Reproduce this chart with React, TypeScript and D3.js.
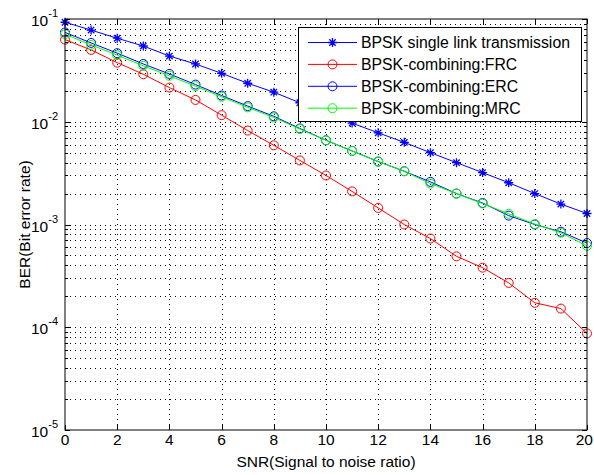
import React from 'react';
import * as d3 from 'd3';

// SNR (dB) on the x axis
const snr = d3.range(0, 21);

// BER
const singleLink = [0.093, 0.078, 0.065, 0.0546, 0.0436, 0.0365, 0.0296, 0.0237, 0.0194, 0.0153, 0.0122,
  0.0097, 0.0078, 0.0063, 0.0050, 0.0040, 0.0032, 0.00255, 0.0020, 0.00158, 0.00128];
const frc = [0.063, 0.050, 0.0376, 0.029, 0.0215, 0.0163, 0.0116, 0.0082, 0.0059, 0.0042, 0.0030,
  0.0021, 0.00145, 0.0010, 0.00073, 0.00049, 0.00038, 0.00027, 0.000173, 0.000152, 0.000087];
const erc = [0.0740, 0.0585, 0.0465, 0.0365, 0.0292, 0.0230, 0.0180, 0.0142, 0.0113, 0.0086, 0.0066,
  0.0052, 0.0041, 0.0033, 0.0026, 0.0020, 0.00162, 0.00122, 0.00100, 0.00085, 0.00066];
const mrc = [0.0710, 0.0560, 0.0445, 0.0350, 0.0280, 0.0222, 0.0175, 0.0138, 0.0110, 0.0085, 0.0066,
  0.0052, 0.0041, 0.0033, 0.0025, 0.0020, 0.00160, 0.00127, 0.00101, 0.00083, 0.00062];

const seriesNames = ['BPSK single link transmission', 'BPSK-combining:FRC', 'BPSK-combining:ERC', 'BPSK-combining:MRC'];
const seriesColors = ['#0000ff', '#ff0000', '#0000ff', '#00ff00'];
const seriesMarkers = ['star', 'circle', 'circle', 'circle'];

const xTicks = [0, 2, 4, 6, 8, 10, 12, 14, 16, 18, 20];
const yDecades = [-5, -4, -3, -2, -1];

const W = 594, H = 475;
const left = 65, right = 587, top = 19, bottom = 430;
const font = 'Arial, "Liberation Sans", sans-serif';

const App = () => {
  const ref = React.useRef<SVGSVGElement>(null);

  React.useEffect(() => {
    const svg = d3.select(ref.current);
    svg.selectAll('*').remove();

    const x = d3.scaleLinear().domain([0, 20]).range([left, right]);
    const y = d3.scaleLog().domain([1e-5, 1e-1]).range([bottom, top]);

    svg.append('rect').attr('width', W).attr('height', H).attr('fill', '#fff');

    // grid
    const minor: number[] = [];
    yDecades.slice(0, 4).forEach(k => {
      for (let m = 2; m <= 9; m++) minor.push(m * Math.pow(10, k));
    });
    const g = svg.append('g');
    g.selectAll('.hg')
      .data(minor.concat(yDecades.slice(1, 4).map(k => Math.pow(10, k))))
      .enter().append('line')
      .attr('x1', left).attr('x2', right)
      .attr('y1', d => Math.round(y(d)) + 0.5).attr('y2', d => Math.round(y(d)) + 0.5)
      .attr('stroke', '#000').attr('stroke-width', 1).attr('stroke-dasharray', '1,4');
    g.selectAll('.vg')
      .data(xTicks.slice(1, -1))
      .enter().append('line')
      .attr('x1', d => Math.round(x(d)) + 0.5).attr('x2', d => Math.round(x(d)) + 0.5)
      .attr('y1', top).attr('y2', bottom)
      .attr('stroke', '#000').attr('stroke-width', 1).attr('stroke-dasharray', '1,4');

    // series
    const series = [singleLink, frc, erc, mrc];
    const line = d3.line<number>().x((_, i) => x(snr[i])).y(d => y(d));
    series.forEach((vals, si) => {
      const col = seriesColors[si];
      svg.append('path').attr('d', line(vals)).attr('fill', 'none')
        .attr('stroke', col).attr('stroke-width', 1);
      const mg = svg.append('g');
      vals.forEach((v, i) => drawMarker(mg, x(snr[i]), y(v), seriesMarkers[si], col));
    });

    // axes box
    svg.append('rect').attr('x', left).attr('y', top).attr('width', right - left).attr('height', bottom - top)
      .attr('fill', 'none').attr('stroke', '#000').attr('stroke-width', 1);

    // x ticks and labels
    xTicks.forEach((t, i) => {
      const px = Math.round(x(t)) + 0.5;
      svg.append('line').attr('x1', px).attr('x2', px).attr('y1', bottom).attr('y2', bottom - 5).attr('stroke', '#000');
      svg.append('line').attr('x1', px).attr('x2', px).attr('y1', top).attr('y2', top + 5).attr('stroke', '#000');
      const last = i === xTicks.length - 1;
      svg.append('text').attr('x', last ? W - 1 : x(t)).attr('y', bottom + 15)
        .attr('text-anchor', last ? 'end' : 'middle')
        .attr('font-family', font).attr('font-size', 15.5).text(t);
    });

    // y ticks
    minor.forEach(v => {
      const py = Math.round(y(v)) + 0.5;
      svg.append('line').attr('x1', left).attr('x2', left + 3).attr('y1', py).attr('y2', py).attr('stroke', '#000');
      svg.append('line').attr('x1', right).attr('x2', right - 3).attr('y1', py).attr('y2', py).attr('stroke', '#000');
    });
    yDecades.forEach(k => {
      const py = Math.round(y(Math.pow(10, k))) + 0.5;
      svg.append('line').attr('x1', left).attr('x2', left + 5).attr('y1', py).attr('y2', py).attr('stroke', '#000');
      svg.append('line').attr('x1', right).attr('x2', right - 5).attr('y1', py).attr('y2', py).attr('stroke', '#000');
      const tx = svg.append('text').attr('x', left - 7).attr('y', py + 6).attr('text-anchor', 'end')
        .attr('font-family', font).attr('font-size', 15.5);
      tx.append('tspan').text('10');
      tx.append('tspan').attr('dy', -9).attr('font-size', 11).text(String(k));
    });

    // axis labels
    svg.append('text').attr('x', (left + right) / 2).attr('y', 467).attr('text-anchor', 'middle')
      .attr('font-family', font).attr('font-size', 15.5).text('SNR(Signal to noise ratio)');
    svg.append('text').attr('transform', `translate(30,${(top + bottom) / 2}) rotate(-90)`)
      .attr('text-anchor', 'middle').attr('font-family', font).attr('font-size', 15.5)
      .text('BER(Bit error rate)');

    // legend
    const lg = svg.append('g');
    lg.append('rect').attr('x', 298.5).attr('y', 27.5).attr('width', 283).attr('height', 94)
      .attr('fill', '#fff').attr('stroke', '#000').attr('stroke-width', 1);
    seriesNames.forEach((name, i) => {
      const ly = 42.5 + i * 21.9;
      lg.append('line').attr('x1', 308).attr('x2', 357).attr('y1', ly).attr('y2', ly)
        .attr('stroke', seriesColors[i]).attr('stroke-width', 1);
      drawMarker(lg, 332.5, ly, seriesMarkers[i], seriesColors[i]);
      lg.append('text').attr('x', 361).attr('y', ly + 5.5).attr('font-family', font).attr('font-size', 15.8)
        .text(name);
    });
  }, []);

  return <svg ref={ref} width={W} height={H} style={{ position: 'absolute', left: 0, top: 0, display: 'block' }} />;
};

function drawMarker(g: any, cx: number, cy: number, kind: string, col: string) {
  if (kind === 'circle') {
    g.append('circle').attr('cx', cx).attr('cy', cy).attr('r', 4.5)
      .attr('fill', 'none').attr('stroke', col).attr('stroke-width', 1);
  } else {
    const s = 4.5, d = 3.2;
    const p = `M${cx - s},${cy}L${cx + s},${cy}M${cx},${cy - s}L${cx},${cy + s}` +
      `M${cx - d},${cy - d}L${cx + d},${cy + d}M${cx - d},${cy + d}L${cx + d},${cy - d}`;
    g.append('path').attr('d', p).attr('stroke', col).attr('stroke-width', 1.3).attr('fill', 'none');
  }
}

export default App;
